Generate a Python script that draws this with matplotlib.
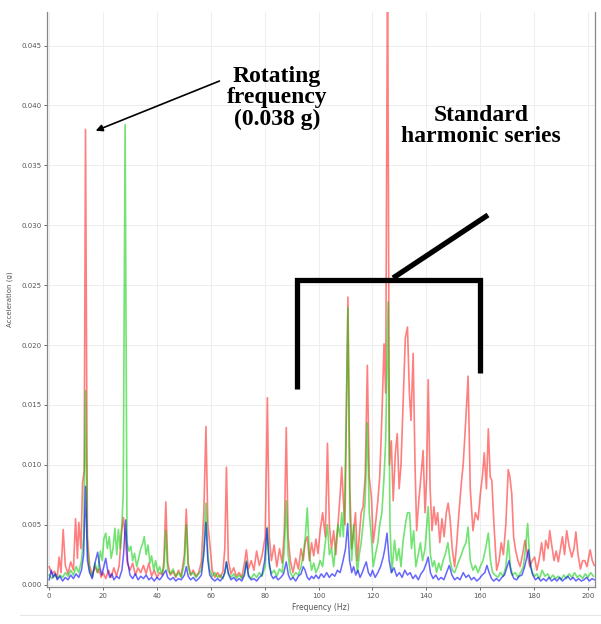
import matplotlib.pyplot as plt
from matplotlib.lines import Line2D
import numpy as np

# spectra: frequency (Hz) and amplitude (milli-g)
red_hz = [0, 1, 2, 3, 3.7, 4.4, 5.2, 6, 7, 8, 9, 9.8, 10.5, 11, 11.8, 12.4, 13, 13.5, 14.2, 15,
          16, 17, 18, 18.5, 19.3, 20, 21, 22, 23, 24, 25, 26, 26.9, 27.6, 28.2, 29, 30, 31, 32, 33,
          34, 35, 36, 37, 38, 39, 40, 41, 42, 42.6, 43.3, 44, 45, 46, 47, 48, 49, 50.2, 50.9, 51.6,
          52.5, 53.5, 54.5, 55.5, 56.5, 57.4, 58.2, 58.9, 59.6, 60.5, 61.5, 62.5, 63.5, 64.5, 65.2, 65.8, 66.5, 67.5, 68.5, 69.5,
          70.5, 71.5, 72.5, 73.2, 74, 75, 76, 77, 78, 79, 80.2, 81, 81.7, 82.5, 83.5, 84.5, 85.5, 86.5, 87.3, 88,
          88.7, 89.5, 90.5, 91.5, 92.5, 93.5, 94.3, 95, 95.8, 96.6, 97.4, 98.2, 99, 99.8, 100.6, 101.5, 102.5, 103.3, 104, 104.8,
          105.6, 106.4, 107.2, 108, 108.6, 109.2, 109.8, 110.9, 111.6, 112.3, 113, 113.7, 114.4, 115.1, 115.8, 116.5, 117.3, 118.1, 118.8, 119.6,
          120.3, 121.1, 122, 122.7, 123.5, 124.3, 124.9, 125.6, 126.3, 127, 127.7, 128.5, 129.2, 129.9, 130.6, 131.3, 132.2, 133, 133.7, 134.3,
          135.1, 135.8, 136.4, 137.2, 138, 138.8, 139.5, 140.1, 140.7, 141.4, 142.1, 142.8, 143.5, 144.2, 145, 145.8, 146.6, 147.4, 148.1, 148.8,
          149.6, 150.5, 151.3, 152.1, 153, 153.7, 154.7, 155.5, 156.3, 157.3, 158.2, 159.2, 160, 160.8, 161.5, 162.3, 163, 163.7, 164.3, 165.1,
          166.1, 167, 167.8, 168.6, 169.5, 170.4, 171, 171.7, 172.4, 173.1, 174, 174.8, 175.7, 176.6, 177.5, 178.4, 179.3, 180.2, 181, 181.8,
          182.8, 183.6, 184.3, 185.2, 185.8, 186.6, 187.4, 188.2, 189, 189.8, 190.5, 191.3, 192.1, 193, 194, 194.8, 195.5, 196.3, 197.2, 198,
          198.8, 199.6, 200.8, 201.6, 202.3]
red_mg = [1.5, 0.9, 1.1, 0.6, 2.3, 1.0, 4.6, 1.6, 0.9, 1.9, 1.2, 5.5, 2.2, 5.2, 3.0, 8.5, 9.5, 38.0, 4.0, 1.6,
          0.8, 1.5, 1.0, 1.3, 0.6, 1.0, 0.5, 1.2, 0.6, 1.4, 0.7, 1.6, 4.5, 5.6, 4.0, 1.8, 1.2, 1.8, 0.8, 1.4,
          1.0, 1.6, 0.9, 1.8, 0.7, 1.2, 0.6, 1.0, 0.8, 2.0, 6.9, 1.8, 0.8, 1.1, 0.6, 1.2, 0.7, 2.5, 6.3, 1.8,
          0.8, 1.2, 0.7, 1.0, 1.9, 6.0, 13.2, 5.0, 3.5, 1.2, 0.6, 1.0, 0.6, 1.1, 3.0, 9.8, 2.0, 0.9, 1.4, 0.7,
          1.0, 0.6, 1.8, 2.9, 1.3, 2.0, 1.2, 2.8, 1.6, 2.4, 4.0, 15.6, 4.0, 2.0, 3.3, 1.5, 3.0, 1.8, 4.5, 13.1,
          4.0, 2.0, 1.0, 2.2, 1.3, 3.0, 2.0, 3.5, 4.0, 2.0, 3.5, 2.4, 3.8, 2.6, 4.5, 6.0, 4.0, 11.8, 5.0, 3.0,
          4.5, 2.5, 5.0, 7.5, 9.8, 7.0, 5.0, 24.0, 8.0, 3.0, 4.5, 6.0, 2.0, 4.0, 6.0, 6.5, 9.0, 18.3, 9.0, 7.3,
          3.5, 5.0, 7.0, 9.0, 14.0, 20.1, 16.0, 52.0, 10.0, 12.0, 7.0, 11.0, 12.6, 8.0, 10.0, 14.6, 20.6, 21.5, 16.0, 13.7,
          19.3, 10.0, 4.5, 7.0, 9.0, 11.2, 6.0, 9.0, 17.1, 8.0, 4.5, 6.5, 5.0, 6.0, 3.5, 5.5, 4.0, 6.0, 6.8, 5.5,
          3.0, 1.5, 3.5, 6.0, 8.5, 10.1, 14.0, 17.4, 8.0, 4.5, 6.0, 5.4, 7.5, 9.0, 11.0, 8.0, 13.0, 9.0, 8.7, 5.0,
          1.2, 2.0, 3.5, 2.5, 5.0, 9.6, 9.0, 7.6, 4.0, 2.9, 2.0, 1.5, 2.5, 3.7, 2.5, 1.5, 2.0, 2.3, 1.2, 2.0,
          3.5, 2.0, 3.7, 3.0, 4.5, 3.2, 2.0, 2.8, 1.9, 3.0, 4.0, 2.5, 4.5, 3.2, 2.3, 3.0, 4.4, 2.5, 1.3, 2.0,
          2.0, 1.5, 2.9, 2.0, 1.6]

green_hz = [0, 1, 2, 3, 4, 5, 6, 7, 8, 9, 10, 11, 12, 12.8, 13.5, 14.2, 15, 16, 17, 18,
            19, 19.7, 20.3, 21, 21.6, 22.3, 23, 23.7, 24.4, 25.1, 25.7, 26.4, 27, 27.5, 28.2, 28.9, 29.6, 30.3, 31, 31.7,
            32.5, 33.2, 34, 34.7, 35.3, 36, 36.7, 37.4, 38, 38.8, 39.5, 40.3, 41, 41.8, 42.6, 43.3, 44, 45, 46, 47,
            48, 49, 50.2, 50.9, 51.6, 52.5, 53.5, 54.5, 55.5, 56.5, 57.4, 58.2, 58.9, 59.6, 60.5, 61.5, 62.5, 63.5, 64.5, 65.2,
            65.8, 66.5, 67.5, 68.5, 69.5, 70.5, 71.5, 72.5, 73.2, 74, 75, 76, 77, 78, 79, 80.2, 81, 81.7, 82.5, 83.5,
            84.5, 85.5, 86.5, 87.3, 88, 88.7, 89.5, 90.5, 91.5, 92.5, 93.5, 94.3, 95.1, 95.8, 96.6, 97.4, 98.2, 99, 99.8, 100.6,
            101.5, 102.5, 103.3, 104, 104.8, 105.6, 106.4, 107.2, 108, 108.6, 109.2, 109.8, 110.9, 111.6, 112.3, 113, 113.7, 114.4, 115.1, 115.8,
            116.5, 117.3, 118.1, 118.8, 119.6, 120.3, 121.1, 122, 122.7, 123.5, 124.3, 124.9, 125.8, 126.5, 127.2, 128.2, 129, 129.8, 130.6, 131.3,
            132.2, 133, 133.8, 134.5, 135.3, 136.1, 137, 137.8, 138.6, 139.5, 140.7, 141.5, 142.3, 143, 143.8, 144.6, 145.4, 146.2, 147, 148,
            148.8, 149.6, 150.5, 151.3, 152.1, 153, 153.7, 154.7, 155.5, 156.3, 157.3, 158.2, 159.2, 160, 161, 162, 163, 163.8, 164.6, 165.5,
            166.5, 167.5, 168.5, 169.5, 170.4, 171.2, 172, 173, 174, 175, 176, 176.8, 177.6, 178.4, 179.3, 180.2, 181, 182, 183, 184,
            185, 186, 187, 188, 189, 190, 191, 192, 193, 194, 195, 196, 197, 198, 199, 200, 201, 202]
green_mg = [0.8, 0.5, 0.9, 0.5, 0.8, 0.6, 1.0, 0.7, 1.2, 0.8, 1.5, 1.0, 2.0, 4.0, 16.2, 3.0, 1.2, 0.6, 1.8, 1.0,
            2.8, 2.0, 3.8, 4.3, 3.0, 4.0, 2.2, 3.0, 4.7, 2.5, 4.6, 3.0, 5.0, 7.7, 38.4, 3.5, 2.8, 3.2, 2.0, 2.6,
            1.5, 2.2, 3.0, 3.4, 4.0, 2.5, 3.3, 1.8, 2.4, 1.2, 2.0, 1.0, 1.5, 0.9, 1.4, 4.5, 1.2, 0.9, 1.3, 0.7,
            1.0, 0.6, 1.8, 5.0, 1.5, 0.8, 1.0, 0.6, 0.9, 1.2, 3.0, 6.8, 2.5, 1.2, 0.7, 1.0, 0.6, 0.8, 0.5, 1.0,
            1.9, 1.0, 0.6, 0.9, 0.5, 0.8, 0.5, 1.0, 2.0, 0.8, 0.5, 0.9, 0.6, 1.0, 0.7, 1.5, 4.8, 1.5, 0.9, 1.2,
            0.7, 1.3, 1.0, 3.0, 7.0, 2.5, 1.0, 0.6, 1.0, 0.8, 1.5, 2.5, 4.0, 6.4, 2.5, 1.2, 1.8, 1.0, 1.4, 2.0,
            1.5, 3.5, 5.0, 2.5, 3.0, 1.5, 3.4, 5.0, 4.0, 6.0, 4.0, 8.0, 23.1, 6.0, 2.0, 5.0, 3.0, 1.0, 2.5, 3.5,
            5.0, 7.0, 13.5, 6.0, 4.0, 1.5, 2.5, 3.5, 5.0, 6.0, 9.0, 12.0, 23.6, 5.0, 1.0, 3.7, 2.0, 3.0, 1.5, 3.5,
            5.0, 6.0, 6.0, 3.0, 4.5, 1.5, 2.5, 3.5, 2.0, 3.0, 6.5, 2.5, 1.5, 2.0, 1.0, 1.8, 1.2, 2.0, 2.5, 3.5,
            2.0, 1.2, 1.0, 1.5, 2.0, 2.5, 3.0, 3.5, 4.8, 2.0, 1.2, 1.6, 1.0, 1.5, 2.0, 3.0, 4.3, 2.0, 1.0, 0.8,
            0.6, 1.0, 0.7, 1.5, 3.7, 1.5, 0.8, 1.0, 0.6, 1.0, 1.5, 3.0, 5.1, 2.0, 1.0, 0.7, 0.9, 0.5, 1.2, 0.7,
            0.9, 0.5, 0.8, 0.5, 0.7, 0.4, 0.8, 0.5, 0.9, 0.6, 1.0, 0.6, 0.8, 0.5, 0.9, 0.6, 1.0, 0.7]

blue_hz = [0, 0.8, 1.5, 2.3, 3, 4, 5, 6, 7, 8, 9, 10, 11, 12, 12.8, 13.5, 14.2, 15, 16, 17,
           18, 18.8, 19.5, 20.3, 21, 21.7, 22.5, 23.3, 24, 25, 26, 27, 27.6, 28.4, 29.1, 30, 31, 32, 33, 34,
           35, 36, 37, 38, 39, 40, 41, 42, 43.3, 44, 45, 46, 47, 48, 49, 50.2, 50.9, 51.6, 52.5, 53.5,
           54.5, 55.5, 56.5, 57.4, 58.2, 58.9, 59.6, 60.5, 61.5, 62.5, 63.5, 64.5, 65.2, 65.8, 66.5, 67.5, 68.5, 69.5, 70.5, 71.5,
           72.5, 73.2, 74, 75, 76, 77, 78, 79, 80, 80.8, 81.6, 82.4, 83.2, 84, 85, 86, 87, 88, 88.8, 89.6,
           90.5, 91.5, 92.5, 93.5, 94.3, 95, 95.8, 96.6, 97.4, 98.2, 99, 100, 101, 102, 103, 104, 105, 106, 107, 108,
           109, 110, 110.8, 111.5, 112.3, 113, 113.8, 114.6, 115.4, 116.2, 117, 117.7, 118.5, 119.3, 120, 121, 122, 123, 124, 124.6,
           125.4, 126.2, 127, 128, 129, 130, 131, 132, 133, 134, 135, 136, 137, 138, 139, 140, 140.7, 141.5, 142.5, 143.5,
           144.5, 145.5, 146.5, 147.5, 148.5, 149.5, 150.5, 151.5, 152.5, 153.7, 154.7, 155.7, 156.7, 157.7, 158.7, 159.7, 160.7, 161.7, 162.5, 163.3,
           164.2, 165, 166, 167, 168, 169, 170, 170.7, 171.5, 172.5, 173.5, 174.5, 175.5, 176.5, 177.3, 177.9, 178.7, 179.5, 180.5, 181.5,
           182.5, 183.5, 184.5, 185.5, 186.5, 187.5, 188.5, 189.5, 190.5, 191.5, 192.5, 193.5, 194.5, 195.5, 196.5, 197.5, 198.5, 199.5, 200.5, 201.5,
           202.3]
blue_mg = [0.4, 1.2, 0.6, 0.9, 0.4, 0.7, 0.3, 0.6, 0.4, 0.8, 0.5, 0.9, 0.6, 1.2, 2.5, 8.2, 2.0, 1.0, 0.5, 1.8,
           2.7, 1.5, 0.8, 1.5, 2.2, 1.2, 0.6, 0.9, 0.4, 0.7, 0.5, 1.2, 2.5, 5.4, 2.0, 0.8, 0.5, 0.9, 0.4, 0.7,
           0.5, 0.8, 0.4, 0.6, 0.3, 0.6, 0.4, 0.7, 1.2, 0.6, 0.4, 0.6, 0.3, 0.5, 0.4, 0.8, 1.5, 0.7, 0.4, 0.6,
           0.3, 0.5, 0.8, 2.5, 5.2, 2.0, 0.8, 0.5, 0.3, 0.5, 0.3, 0.6, 1.0, 1.9, 0.9, 0.4, 0.6, 0.3, 0.5, 0.3,
           0.8, 1.9, 0.7, 0.4, 0.5, 0.3, 0.6, 0.8, 2.0, 4.7, 2.0, 0.8, 0.5, 0.7, 0.4, 0.6, 0.9, 1.9, 0.8, 0.4,
           0.6, 0.3, 0.7, 0.9, 1.5, 1.2, 0.6, 0.4, 0.7, 0.5, 0.8, 0.5, 0.9, 0.6, 1.0, 0.6, 0.9, 0.7, 1.2, 1.0,
           1.9, 3.0, 5.1, 2.0, 1.0, 1.5, 0.8, 1.2, 0.6, 1.0, 1.5, 1.9, 1.0, 0.7, 1.2, 0.6, 1.0, 1.5, 2.3, 3.0,
           4.3, 2.0, 1.0, 1.4, 0.7, 1.0, 0.6, 1.2, 0.8, 1.0, 0.5, 0.8, 0.4, 0.9, 1.2, 1.8, 2.3, 1.0, 0.5, 0.8,
           0.4, 0.6, 0.4, 1.0, 1.6, 0.8, 0.4, 0.6, 0.4, 1.0, 0.6, 0.8, 0.4, 0.6, 0.3, 0.5, 0.8, 1.0, 1.6, 1.0,
           0.5, 0.3, 0.5, 0.3, 0.6, 0.8, 1.5, 2.0, 1.0, 0.5, 0.4, 0.7, 0.8, 1.5, 2.3, 2.9, 1.5, 0.8, 0.4, 0.6,
           0.3, 0.5, 0.3, 0.6, 0.3, 0.5, 0.3, 0.6, 0.3, 0.5, 0.7, 0.4, 0.6, 0.3, 0.5, 0.3, 0.4, 0.6, 0.3, 0.5,
           0.4]

x_ticks = [0, 20, 40, 60, 80, 100, 120, 140, 160, 180, 200]
y_ticks = [0.000, 0.005, 0.010, 0.015, 0.020, 0.025, 0.030, 0.035, 0.040, 0.045]

W, H = 601, 624
fig = plt.figure(figsize=(W / 100, H / 100), dpi=100)
ax = fig.add_axes([47 / W, 1 - 587 / H, 548 / W, 575 / H])

ax.plot(red_hz, np.array(red_mg) / 1000, color="#ff0000", alpha=0.5, lw=1.2)
ax.plot(green_hz, np.array(green_mg) / 1000, color="#00cc00", alpha=0.55, lw=1.2)
ax.plot(blue_hz, np.array(blue_mg) / 1000, color="#0000ff", alpha=0.6, lw=1.1)

ax.set_xlim(-0.8, 202.6)
ax.set_ylim(-0.0002, 0.0478)
ax.set_xticks(x_ticks)
ax.set_yticks(y_ticks)
ax.set_yticklabels([f"{v:.3f}" for v in y_ticks])
ax.grid(True, color="#eeeeee", lw=0.8)
ax.set_axisbelow(True)
ax.tick_params(labelsize=5, colors="#555555", length=2, width=0.6, pad=2)
for s in ["left", "bottom", "right"]:
    ax.spines[s].set_color("#888888")
    ax.spines[s].set_linewidth(0.9)
ax.spines["top"].set_visible(False)
ax.set_xlabel("Frequency (Hz)", fontsize=5.5, color="#555555", labelpad=3)
ax.set_ylabel("Acceleration (g)", fontsize=5, color="#555555", labelpad=6)

# faint frame line under the chart (screenshot border)
fig.add_artist(Line2D([20 / W, 1], [1 - 615 / H] * 2, color="#e6e6e6", lw=0.8))


def fp(px, py):
    return px / W, 1 - py / H


serif = dict(family="Liberation Serif", fontweight="bold", color="black")
fig.text(*fp(277, 98), "Rotating\nfrequency\n(0.038 g)", fontsize=17, ha="center", va="center",
         linespacing=1.05, **serif)
fig.text(*fp(481, 126), "Standard\nharmonic series", fontsize=17, ha="center", va="center",
         linespacing=1.05, **serif)

ax.annotate("", xy=(16.3, 0.0378), xycoords="data", xytext=fp(222, 80), textcoords="figure fraction",
            arrowprops=dict(arrowstyle="-|>", color="black", lw=1.2, mutation_scale=10))

# bracket over the harmonic series
bk = dict(color="black", lw=3.8, solid_capstyle="butt", solid_joinstyle="miter")
xs, ys = zip(fp(297, 389), fp(297, 280), fp(480, 280), fp(480, 373))
fig.add_artist(Line2D(xs, ys, **bk))
xs, ys = zip(fp(393, 278), fp(488, 215))
fig.add_artist(Line2D(xs, ys, **bk))

fig.savefig("out.png", dpi=100)
